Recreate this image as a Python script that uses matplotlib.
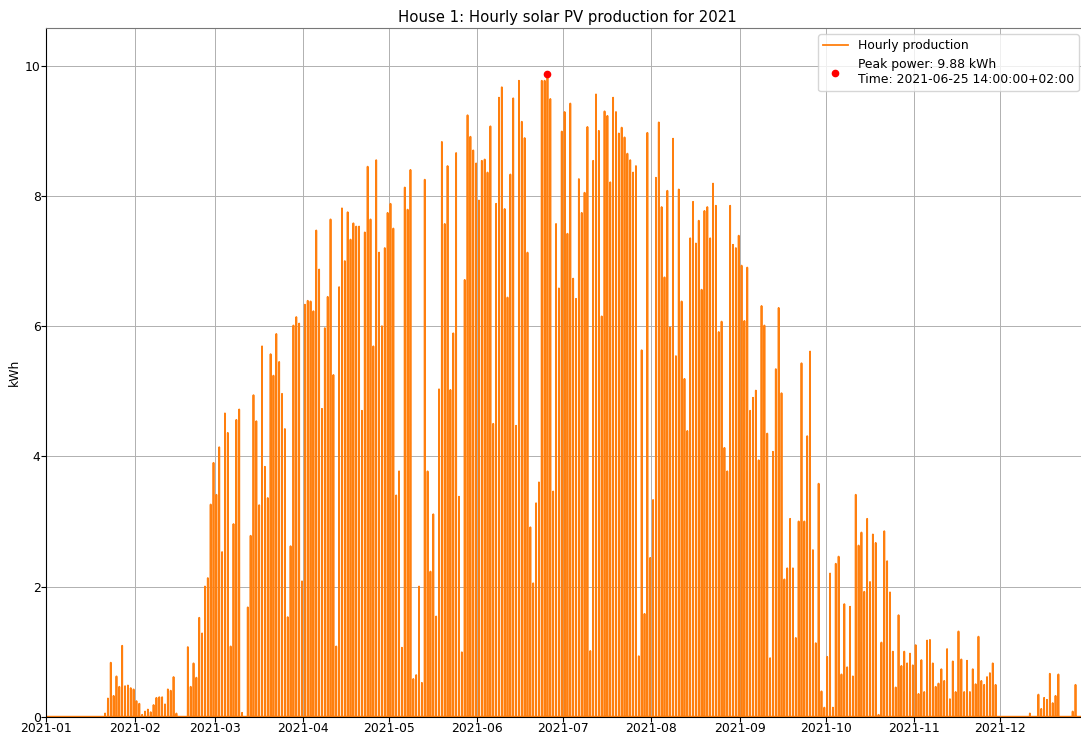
import numpy as np
import pandas as pd
import matplotlib
matplotlib.use("Agg")
from matplotlib import pyplot as plt
import matplotlib.dates as mdates

# daily peak of the hourly production (kWh), one value per day
jan = [0]*20 + [0.05, 0.28, 0.83, 0.32, 0.62, 0.46, 1.09, 0.47, 0.48, 0.44, 0.42]
feb = [0.24, 0.2, 0.03, 0.08, 0.11, 0.07, 0.18, 0.29, 0.3, 0.3, 0.19, 0.42, 0.4, 0.61,
       0.05, 0, 0, 0, 1.07, 0.46, 0.82, 0.6, 1.52, 1.28, 2.0, 2.13, 3.26, 3.9]
mar = [3.41, 4.14, 2.53, 4.66, 4.36, 1.08, 2.96, 4.56, 4.72, 0.06, 0, 1.68, 2.78, 4.94,
       4.54, 3.25, 5.69, 3.84, 3.36, 5.57, 5.24, 5.88, 5.45, 4.96, 4.42, 1.53, 2.62, 6.01,
       6.14, 6.04, 2.08]
apr = [6.33, 6.39, 6.38, 6.23, 7.47, 6.87, 4.73, 5.97, 6.45, 7.64, 5.25, 1.08, 6.6, 7.81,
       7.0, 7.75, 7.33, 7.58, 7.53, 7.53, 4.7, 7.44, 8.45, 7.64, 5.69, 8.55, 7.13, 6.0,
       7.2, 7.74]
may = [7.88, 7.5, 3.4, 3.77, 1.06, 8.13, 7.79, 8.4, 0.58, 0.64, 2.0, 0.52, 8.25, 3.77,
       2.23, 3.11, 1.54, 5.03, 8.83, 7.57, 8.46, 5.02, 5.89, 8.66, 3.38, 0.99, 6.71, 9.24,
       8.91, 8.7, 8.5]
jun = [7.93, 8.54, 8.56, 8.36, 9.07, 4.5, 7.88, 9.51, 9.67, 7.8, 6.44, 8.33, 9.5, 4.47,
       9.77, 9.14, 8.89, 7.13, 2.91, 2.05, 3.28, 3.6, 9.77, 9.77, 9.88, 9.49, 3.46, 7.57,
       6.58, 8.99]
jul = [9.29, 7.42, 9.42, 6.73, 6.42, 8.26, 7.74, 8.05, 9.06, 1.01, 8.54, 9.56, 9.0, 6.15,
       9.3, 9.23, 8.21, 9.51, 9.29, 8.96, 9.05, 8.9, 8.65, 8.55, 8.36, 8.46, 0.93, 5.63,
       1.58, 8.97, 2.44]
aug = [3.33, 8.28, 9.13, 7.83, 6.75, 8.08, 5.98, 8.88, 5.54, 8.1, 6.38, 5.19, 4.39, 7.35,
       7.91, 7.27, 7.62, 6.56, 7.77, 7.83, 7.35, 8.19, 7.85, 5.91, 6.07, 4.13, 3.77, 7.85,
       7.25, 7.2, 7.39]
sep = [6.93, 6.08, 6.9, 4.7, 4.9, 5.01, 3.94, 6.31, 6.01, 4.35, 0.9, 4.07, 5.34, 6.28,
       4.97, 2.11, 2.28, 3.04, 2.28, 1.21, 3.0, 5.43, 3.0, 4.31, 5.61, 2.56, 1.13, 3.58,
       0.39, 0.14]
oct_ = [0.92, 2.2, 0.14, 2.35, 2.46, 0.65, 1.73, 0.76, 1.69, 0.62, 3.41, 2.63, 2.83, 1.92,
        3.04, 2.07, 2.8, 2.67, 0.03, 1.14, 2.85, 2.39, 1.91, 1.0, 0.45, 1.56, 0.78, 1.0,
        0.82, 0.97, 0.79]
nov = [1.1, 0.35, 0.87, 0.38, 1.17, 1.18, 0.82, 0.46, 0.51, 0.73, 0.55, 1.04, 0.27, 0.85,
       0.38, 1.31, 0.88, 0.38, 0.86, 0.38, 0.73, 0.5, 1.23, 0.55, 0.49, 0.61, 0.67, 0.82,
       0.49, 0]
dec = [0]*10 + [0.05, 0, 0, 0.34, 0.12, 0.29, 0.26, 0.66, 0.21, 0.32, 0.65, 0, 0, 0, 0,
       0.08, 0.49, 0, 0, 0, 0]

daily_peak = jan + feb + mar + apr + may + jun + jul + aug + sep + oct_ + nov + dec
peak_hour = 14  # hour of the day the daily maximum is placed at

# hourly series for 2021, night hours are zero
hours = pd.date_range("2021-01-01 00:00", periods=365*24, freq="h")
prod = np.zeros(len(hours))
prod[np.arange(365)*24 + peak_hour] = daily_peak
data = pd.Series(prod, index=hours)

t_max = data.idxmax()
p_max = data.max()

plt.rcParams['font.size'] = 8.9
fig = plt.figure(figsize=(10.81, 7.34), dpi=100)
# axes runs a little past the right edge of the picture, like the original
ax = fig.add_axes([46.3/1081, 17.3/734, (1088-46.3)/1081, (716.7-28)/734])

ax.plot(data.index, data.values, color='#ff7f0e', lw=1.3, label='Hourly production')
ax.plot([t_max], [p_max], 'o', color='red', ms=4.5,
        label='Peak power: %.2f kWh\nTime: %s+02:00' % (p_max, t_max))

ax.set_xlim(hours[0], hours[-1])
ax.set_ylim(0, 10.58)
ax.xaxis.set_major_locator(mdates.MonthLocator())
ax.xaxis.set_major_formatter(mdates.DateFormatter('%Y-%m'))
ax.tick_params(length=3.3, pad=0.8)
ax.grid(True, color='#b0b0b0', lw=0.7)
ax.spines['top'].set_color('#777777')
ax.set_ylabel('kWh', labelpad=3)
ax.set_title('House 1: Hourly solar PV production for 2021', pad=4)
ax.legend(loc='upper right', bbox_to_anchor=((1085-46.3)/(1088-46.3), 1.0))

plt.savefig('out.png', dpi=100)
